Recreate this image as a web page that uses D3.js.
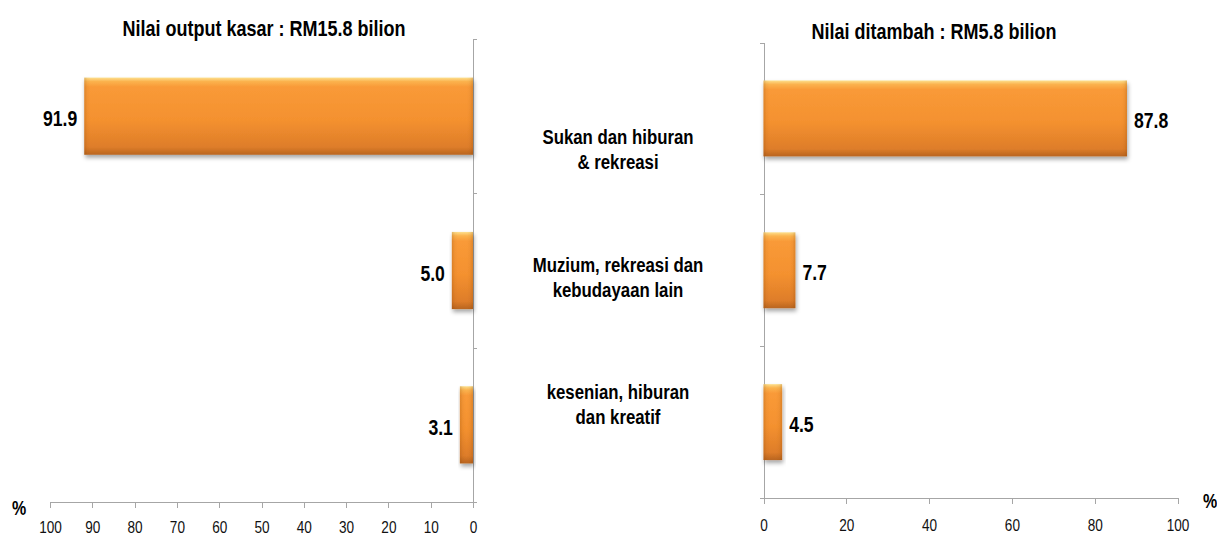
<!DOCTYPE html>
<html>
  <head>
    <meta charset="utf-8">
    <title>Nilai output kasar dan nilai ditambah</title>
    <script src="https://d3js.org/d3.v7.min.js"></script>
    <style>
      body { margin: 0; background: #fff; }
      svg { display: block; font-family: "Liberation Sans Narrow", "Arial Narrow", "Liberation Sans", Arial, sans-serif; }
      .axis path, .axis line { stroke: #a6a6a6; shape-rendering: crispEdges; }
      .axis text { font-size: 17px; fill: #111; }
      .title, .value, .cat, .pct { font-weight: bold; fill: #000; }
    </style>
  </head>
  <body>
    <svg id="chart" width="1217" height="536">
      <defs></defs>
      <g id="leftGroup"></g>
      <g id="rightGroup"></g>
      <g id="labelGroup"></g>
    </svg>
    <script>
      // chart data
      var categories = [
        ["Sukan dan hiburan", "& rekreasi"],
        ["Muzium, rekreasi dan", "kebudayaan lain"],
        ["kesenian, hiburan", "dan kreatif"]
      ];
      var outputValues = [91.9, 5.0, 3.1];   // Nilai output kasar, %
      var addedValues = [87.8, 7.7, 4.5];    // Nilai ditambah, %
      var leftTicks = [100, 90, 80, 70, 60, 50, 40, 30, 20, 10, 0];
      var rightTicks = [0, 20, 40, 60, 80, 100];
      var leftTitle = "Nilai output kasar : RM15.8 bilion";
      var rightTitle = "Nilai ditambah : RM5.8 bilion";

      var catKeys = categories.map(function(d) { return d.join(" "); });
      var svg = d3.select("#chart");
      var defs = svg.select("defs");
      var squeeze = 0.8; // no narrow font installed, so squash the text sideways

      function condense(sel) {
        sel.each(function() {
          var t = d3.select(this);
          var tx = +t.attr("x") || 0, ty = +t.attr("y") || 0;
          t.attr("x", null).attr("y", null)
            .attr("transform", "translate(" + tx + "," + ty + ") scale(" + squeeze + ",1)");
        });
      }

      // bar shading
      var grad = defs.append("linearGradient")
        .attr("id", "barFill")
        .attr("x1", 0).attr("y1", 0).attr("x2", 0).attr("y2", 1);
      [[0, "#fde08e"], [0.05, "#fbb34e"], [0.12, "#f99a38"], [0.55, "#f4912f"], [0.9, "#de7d2a"], [1, "#b9651f"]]
        .forEach(function(s) { grad.append("stop").attr("offset", s[0]).attr("stop-color", s[1]); });
      var shadow = defs.append("filter").attr("id", "shadow")
        .attr("x", "-10%").attr("y", "-10%").attr("width", "130%").attr("height", "140%");
      shadow.append("feDropShadow")
        .attr("dx", 1).attr("dy", 3).attr("stdDeviation", 2)
        .attr("flood-color", "#000").attr("flood-opacity", 0.35);

      var barCount = 0;
      function panel(group, opts) {
        var g = d3.select(group);
        var x = d3.scaleLinear().domain(opts.domain).range(opts.xRange);
        var yEdge = d3.scaleLinear().domain([0, categories.length]).range(opts.yRange);
        var y = d3.scaleBand().domain(catKeys).range(opts.yRange)
          .paddingInner(0.5).paddingOuter(0.25);
        var zeroX = x(0);
        var axisY = opts.yRange[1];

        // x axis
        var xAxis = d3.axisBottom(x)
          .tickValues(opts.ticks)
          .tickSizeInner(6)
          .tickSizeOuter(0)
          .tickFormat(d3.format("d"));
        var xg = g.append("g").attr("class", "axis")
          .attr("transform", "translate(0," + axisY + ")")
          .call(xAxis);
        xg.selectAll("text").attr("y", opts.labelOffset).attr("dy", 0).call(condense);

        // category axis
        var cAxis = (opts.side == "left" ? d3.axisRight(yEdge) : d3.axisLeft(yEdge))
          .tickValues(d3.range(categories.length + 1))
          .tickSizeInner(4)
          .tickSizeOuter(0)
          .tickFormat("");
        g.append("g").attr("class", "axis")
          .attr("transform", "translate(" + zeroX + ",0)")
          .call(cAxis);

        // bars
        var bars = g.selectAll(".bar")
          .data(opts.values)
          .enter().append("g")
            .attr("class", "bar")
            .attr("filter", "url(#shadow)");
        bars.append("rect")
          .attr("x", function(d) { return Math.min(x(d), zeroX); })
          .attr("y", function(d, i) { return y(catKeys[i]); })
          .attr("width", function(d) { return Math.abs(x(d) - zeroX); })
          .attr("height", y.bandwidth())
          .attr("fill", "url(#barFill)");
        // darker bevel at both ends of each bar
        bars.append("rect")
          .attr("x", function(d) { return Math.min(x(d), zeroX); })
          .attr("y", function(d, i) { return y(catKeys[i]); })
          .attr("width", function(d) { return Math.abs(x(d) - zeroX); })
          .attr("height", y.bandwidth())
          .attr("fill", function(d) {
            var x0 = Math.min(x(d), zeroX), w = Math.abs(x(d) - zeroX);
            var id = "edge" + (barCount++);
            var e = Math.min(0.3, 3 / w);
            var eg = defs.append("linearGradient").attr("id", id)
              .attr("gradientUnits", "userSpaceOnUse")
              .attr("x1", x0).attr("x2", x0 + w).attr("y1", 0).attr("y2", 0);
            [[0, 0.22], [e, 0.05], [e * 2, 0], [1 - e * 2, 0], [1 - e, 0.05], [1, 0.22]]
              .forEach(function(s) {
                eg.append("stop").attr("offset", s[0]).attr("stop-color", "#7a3a00").attr("stop-opacity", s[1]);
              });
            return "url(#" + id + ")";
          });

        // value labels
        g.selectAll(".value")
          .data(opts.values)
          .enter().append("text")
            .attr("class", "value")
            .attr("x", function(d) { return opts.side == "left" ? x(d) - 7 : x(d) + 7; })
            .attr("y", function(d, i) { return y(catKeys[i]) + y.bandwidth() / 2 + 10; })
            .attr("text-anchor", opts.side == "left" ? "end" : "start")
            .style("font-size", "22px")
            .text(function(d) { return d3.format(".1f")(d); })
            .call(condense);

        // title
        g.append("text")
          .attr("class", "title")
          .attr("x", opts.titlePos[0])
          .attr("y", opts.titlePos[1])
          .attr("text-anchor", "middle")
          .style("font-size", "22.5px")
          .text(opts.title)
          .call(condense);

        // percent sign
        g.append("text")
          .attr("class", "pct")
          .attr("x", opts.pctPos[0])
          .attr("y", opts.pctPos[1])
          .attr("text-anchor", "middle")
          .style("font-size", "20px")
          .text("%")
          .call(condense);
      }

      panel("#leftGroup", {
        side: "left",
        domain: [100, 0],
        xRange: [50, 473],
        yRange: [39, 502],
        values: outputValues,
        ticks: leftTicks,
        labelOffset: 30.5,
        title: leftTitle,
        titlePos: [264, 36],
        pctPos: [19, 515]
      });
      panel("#rightGroup", {
        side: "right",
        domain: [0, 100],
        xRange: [763.5, 1177.5],
        yRange: [42.5, 498],
        values: addedValues,
        ticks: rightTicks,
        labelOffset: 33,
        title: rightTitle,
        titlePos: [934, 39],
        pctPos: [1210, 508]
      });

      // category labels in the middle
      var labelY = d3.scalePoint().domain(catKeys).range([144, 399]);
      var cats = d3.select("#labelGroup").selectAll(".cat")
        .data(categories)
        .enter().append("text")
          .attr("class", "cat")
          .attr("text-anchor", "middle")
          .style("font-size", "21px")
          .attr("transform", function(d, i) { return "translate(618," + labelY(catKeys[i]) + ") scale(" + squeeze + ",1)"; });
      cats.selectAll("tspan")
        .data(function(d) { return d; })
        .enter().append("tspan")
          .attr("x", 0)
          .attr("y", function(d, i) { return i * 25.5; })
          .text(function(d) { return d; });
    </script>
  </body>
</html>
